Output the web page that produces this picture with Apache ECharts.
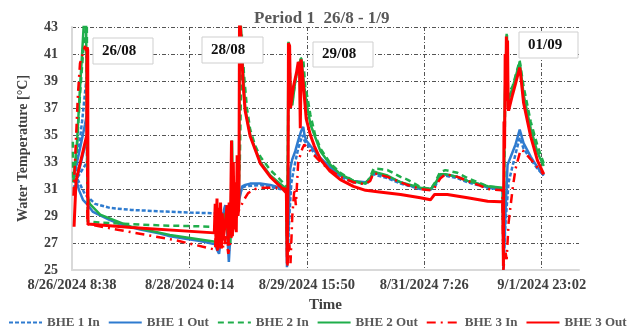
<!DOCTYPE html>
<html>
<head>
<meta charset="utf-8">
<script src="https://cdn.jsdelivr.net/npm/echarts@6/dist/echarts.min.js"></script>
<style>html,body{margin:0;padding:0;background:#fff}#c{width:631px;height:335px}</style>
</head>
<body>
<div id="c"></div>
<script>
// x values are hours since 8/26/2024 8:38
const xLabelHours = [0, 39.6, 79.2, 118.8, 158.4];
const xGridHours = [39.6, 79.2, 118.8, 158.4];
const yLabelValues = [25, 27, 29, 31, 33, 35, 37, 39, 41, 43];
const yGridValues = [27, 29, 31, 33, 35, 37, 39, 41, 43];
const seriesNames = ['BHE 1 In', 'BHE 1 Out', 'BHE 2 In', 'BHE 2 Out', 'BHE 3 In', 'BHE 3 Out'];
const dayLabels = ['26/08', '28/08', '29/08', '01/09'];

const bhe1In = [[0.7,31.0],[2.0,33.5],[3.4,36.0],[4.7,38.8],[5.0,39.0],[5.1,33.0],[1.7,31.8],[4.4,30.6],[7.8,29.9],[12.8,29.6],[20,29.45],[29.7,29.35],[40,29.25],[48.3,29.2],
 [48.6,28.0],[49.2,29.5],[49.8,27.5],[50.5,29.3],[51.3,28.8],[52.0,29.5],[52.7,27.0],[53.4,28.5],[54.4,29.0],[55.4,29.5],[56.4,30.5],[57.4,31.1],[58.4,31.2],[63.5,31.3],[70.2,31.0],[72.3,30.9],
 [72.6,25.5],[73.3,29.0],[74.0,31.5],[75.3,33.0],[76.3,34.0],[77.7,35.0],[78.35,34.6],[80.4,34.0],[83.8,33.2],[87.1,32.5],[90.5,31.9],[94.9,31.5],[98.9,31.4],[100.4,31.6],[101.6,32.1],[103,32.0],[106.4,31.8],[110.8,31.4],[117.5,31.0],[120.9,30.95],[122.5,31.2],[124.0,31.9],[125.6,32.0],[130,31.8],[133.4,31.5],[140.2,31.1],[145.3,31.0],
 [145.5,25.2],[146.2,28.5],[147.25,31.5],[149.6,33.6],[151.0,34.8],[152.3,34.0],[154.7,33.2],[157.0,32.5],[159.1,32.0]];

const bhe1Out = [[1.0,32.3],[2.7,34.0],[4.4,35.8],[5.1,36.6],[5.3,35.0],[1.5,31.6],[2.4,30.9],[3.7,30.2],[5.4,29.8],[7.1,29.3],[9.5,29.05],[12.8,28.7],[17,28.35],[23.0,28.0],[29.7,27.7],[33.1,27.5],[38.8,27.3],[43.2,27.15],[48.3,26.9],
 [48.9,26.5],[49.6,26.2],[50.3,27.5],[50.8,28.5],[51.3,29.5],[51.7,29.8],[52.3,28.0],[52.9,25.6],[53.4,27.5],[54.0,28.5],[54.7,29.0],[55.4,29.0],[55.7,29.7],[56.7,30.5],[57.4,31.2],[58.4,31.3],[60.1,31.4],[63.5,31.4],[66.9,31.3],[70.2,31.1],[72.3,31.0],
 [72.5,25.2],[73.0,28.0],[73.3,30.5],[73.6,32.5],[74.3,33.2],[75.3,33.8],[76.3,34.6],[77.3,35.3],[78.0,35.6],[78.4,35.0],[79.0,34.6],[80.4,34.2],[83.8,33.3],[87.1,32.6],[90.5,32.0],[94.9,31.6],[98.9,31.5],[100.2,31.6],[101.5,32.2],[103,32.15],[106.4,31.9],[110.8,31.5],[113.1,31.3],[117.5,31.05],[120.9,31.0],[122.5,31.3],[124.0,32.0],[125.3,32.1],[130.0,31.9],[133.4,31.6],[136.8,31.4],[140.2,31.1],[143.5,31.0],[145.3,31.0],
 [145.5,25.0],[146.2,29.2],[146.9,32.8],[149.6,34.3],[151.0,35.4],[152.3,34.4],[154.7,33.4],[157.0,32.6],[159.1,32.0]];

const bhe2In = [[0.3,34.5],[0.4,31.5],[1.5,33.5],[2.7,38.0],[3.7,41.0],[4.4,42.5],[5.0,43.5],[5.3,28.6],[10,28.5],[20,28.4],[30,28.3],[40,28.25],[48.3,28.2],
 [48.6,27.5],[49.5,29.0],[50.5,27.5],[51.3,28.8],[52.3,29.6],[53.0,27.0],[54.0,29.0],[55.0,29.8],[56.0,30.5],[56.6,33.0],[57.3,42.5],[58.0,39.5],[59.0,37.0],[60.1,35.4],[61.8,34.2],[63.5,33.4],[66.9,32.4],[70.2,31.7],[72.3,31.2],
 [72.6,27.0],[73.1,41.9],[73.4,41.9],[73.8,38.0],[74.5,37.8],[75.5,39.2],[76.5,40.2],[77.3,40.7],[78.0,40.6],[78.7,38.5],[79.4,37.8],[80.4,36.5],[82,35.0],[83.8,34.0],[87.1,32.9],[90.5,32.2],[94.9,31.6],[98.9,31.35],[100.6,31.9],[101.7,32.5],[103,32.5],[106.4,32.4],[110.8,31.9],[113.1,31.7],[117.5,31.15],[121,31.0],[122.5,31.5],[124.0,32.2],[125.9,32.4],[130,32.2],[133.4,31.8],[136.8,31.5],[140.2,31.2],[143.5,31.1],[145.3,31.0],
 [145.5,27.5],[146.2,39.0],[146.6,42.5],[147.0,38.0],[148.6,38.6],[151.0,40.5],[152.3,38.6],[154.7,36.0],[157.0,34.2],[159.1,32.9]];

const bhe2Out = [[0.5,31.5],[1.7,34.5],[2.7,38.5],[3.4,41.0],[4.05,43.5],[4.7,45.0],[5.2,30.5],[6,29.9],[9.5,29.1],[20,28.2],[33,27.6],[48.3,27.1],
 [48.9,26.7],[50,27.5],[51.3,29.0],[52.3,28.0],[53.4,27.0],[54.0,34.6],[54.3,28.5],[55.4,29.5],[56.3,30.0],[56.6,43.5],[57.0,43.0],[57.4,41.0],[58.4,37.0],[60.1,35.0],[63.5,33.0],[66.9,32.0],[70.2,31.4],[72.3,31.0],
 [72.6,26.0],[73.0,41.9],[73.5,41.9],[73.8,37.5],[74.3,37.2],[75.3,39.0],[76.3,40.0],[77.3,40.7],[77.9,40.6],[78.4,38.5],[79.4,37.0],[80.4,35.8],[83.8,33.8],[87.1,32.8],[90.5,32.1],[94.9,31.6],[98.9,31.4],[100.6,31.8],[101.7,32.3],[103,32.2],[106.4,32.0],[110.8,31.5],[117.5,31.1],[121,31.0],[122.5,31.4],[124.2,32.1],[126,32.1],[130,31.9],[133.4,31.6],[140.2,31.2],[145.3,31.1],
 [145.5,26.0],[146.0,38.0],[146.7,42.4],[147.1,37.5],[148.6,38.5],[151.0,40.4],[151.5,39.5],[152.3,38.0],[154.7,35.5],[157.0,33.7],[159.1,32.7]];

const bhe3In = [[0.5,30.5],[2.0,38.0],[2.7,40.3],[4.4,41.6],[5.0,41.0],[5.2,28.4],[20,27.8],[35,27.2],[46.6,26.6],[48.3,26.5],
 [48.6,28.5],[49.0,26.3],[49.5,29.0],[50,26.5],[50.5,28.0],[51,26.6],[52.0,27.5],[52.7,26.2],[53.4,27.0],[54.0,27.7],[55.0,28.5],[56.0,29.3],[56.7,29.6],[58.0,30.2],[59.4,30.7],[61.8,31.0],[63.5,31.1],[70.2,31.1],[72.3,31.0],
 [72.6,25.2],[73.3,27.0],[73.7,25.5],[74.3,29.0],[75.0,31.0],[75.5,29.8],[76.3,33.0],[77.0,33.5],[77.7,34.0],[78.35,34.3],[79.4,34.0],[80.4,33.8],[83.8,33.0],[87.1,32.4],[90.5,31.9],[94.9,31.5],[98.9,31.35],[100.6,31.6],[101.7,32.2],[103,32.1],[106.4,31.9],[110.8,31.5],[113.1,31.3],[117.5,31.0],[120.9,30.9],[122,31.0],[124.3,31.8],[126,32.1],[130,31.9],[133.4,31.6],[137,31.3],[140.2,31.0],[145.2,30.9],
 [145.5,25.0],[145.9,26.0],[146.23,26.3],[146.6,25.8],[147.25,28.5],[147.9,29.7],[148.6,31.0],[149.6,32.5],[151.3,33.9],[152.3,33.8],[154.7,33.2],[157.0,32.6],[159.1,32.1]];

const bhe3Out = [[0.7,28.2],[1.35,31.6],[5.0,35.0],[5.1,41.5],[5.3,41.3],[5.4,28.4],[20,28.15],[48.0,27.75],
 [48.3,29.9],[48.6,26.8],[48.9,30.3],[49.2,26.5],[49.5,29.6],[49.8,27.0],[50.1,30.0],[50.4,26.6],[50.7,29.2],[51.0,27.2],[51.7,28.5],[52.3,29.8],[52.7,26.8],[53.0,30.0],[53.4,27.5],[53.8,34.6],[54.1,27.5],[54.4,33.0],[54.7,28.0],[55.0,31.5],[55.4,27.8],[55.7,33.5],[56.0,29.0],[56.3,30.0],[56.5,44.0],[56.9,44.0],[57.07,42.0],[57.75,38.6],[58.4,36.8],[60.1,34.9],[63.5,32.9],[66.9,31.9],[70.2,31.2],[72.3,30.7],
 [72.4,30.6],[72.6,25.5],[72.9,33.0],[73.0,41.8],[73.4,41.6],[73.7,37.0],[74.0,36.9],[74.7,38.6],[75.7,39.6],[76.3,40.4],[76.7,40.2],[77.0,35.5],[77.3,40.6],[77.8,40.5],[78.3,38.0],[79.0,36.2],[80.4,35.0],[81.7,34.2],[83.8,33.2],[87.1,32.3],[90.5,31.7],[94.9,31.2],[99.0,30.9],[103,30.8],[110.8,30.6],[117.5,30.35],[120.9,30.2],[122.3,30.6],[126.6,30.6],[133.4,30.35],[140.2,30.1],[144.5,30.05],[145.3,30.1],
 [145.5,25.3],[145.7,36.0],[145.9,34.0],[146.1,41.0],[146.3,37.5],[146.5,42.3],[146.7,38.0],[146.9,42.0],[147.1,37.0],[147.25,36.8],[148.6,38.0],[149.6,38.8],[151.0,40.0],[151.3,39.5],[152.3,37.4],[154.7,34.9],[157.0,33.1],[159.1,32.1]];

const startUTC = Date.UTC(2024, 7, 26, 8, 38);
function fmtHour(h) {
  const d = new Date(startUTC + Math.round(h * 60) * 60000);
  return (d.getUTCMonth() + 1) + '/' + d.getUTCDate() + '/' + d.getUTCFullYear() + ' ' +
    d.getUTCHours() + ':' + String(d.getUTCMinutes()).padStart(2, '0');
}

const FONT = 'Liberation Serif';
const BLUE = '#2e7bcf', GREEN = '#1fae4b', RED = '#ff0000';
const gridDash = [4, 2, 1, 2];

const chart = echarts.init(document.getElementById('c'), null, {renderer: 'canvas'});

const seriesData = [bhe1In, bhe1Out, bhe2In, bhe2Out, bhe3In, bhe3Out];
const styles = [
  {color: BLUE, type: [4, 2], width: 2.5},
  {color: BLUE, type: 'solid', width: 2.5},
  {color: GREEN, type: [6, 4], width: 2.5},
  {color: GREEN, type: 'solid', width: 2.5},
  {color: RED, type: [9, 5, 2, 5], width: 2.5},
  {color: RED, type: 'solid', width: 3}
];

const boxes = [
  {x: 93, y: 38, w: 60, h: 26},
  {x: 202, y: 37, w: 61, h: 26},
  {x: 313, y: 42, w: 60, h: 25},
  {x: 519, y: 32, w: 59, h: 26}
];
const graphics = [];
boxes.forEach((b, i) => {
  graphics.push({type: 'rect', shape: {x: b.x, y: b.y, width: b.w, height: b.h}, z: 100,
    style: {fill: '#fff', stroke: '#cfcfcf', lineWidth: 1}});
  graphics.push({type: 'text', x: b.x + 9, y: b.y + b.h / 2, z: 101,
    style: {text: dayLabels[i], font: 'bold 15px "' + FONT + '"', fill: '#111', verticalAlign: 'middle', align: 'left'}});
});

chart.setOption({
  animation: false,
  backgroundColor: '#fff',
  title: {
    text: 'Period 1  26/8 - 1/9', left: 249, top: 5,
    textStyle: {fontFamily: FONT, fontWeight: 'bold', fontSize: 17, color: '#595959'}
  },
  grid: {left: 72, right: 52, top: 27, bottom: 65},
  legend: {
    data: seriesNames, left: 8, top: 316, padding: 0, itemWidth: 33, itemHeight: 12, itemGap: 8,
    itemStyle: {opacity: 0},
    textStyle: {fontFamily: FONT, fontWeight: 'bold', fontSize: 13, color: '#595959'}
  },
  xAxis: {
    type: 'value', min: 0, max: 171,
    name: 'Time', nameLocation: 'middle', nameGap: 28,
    nameTextStyle: {fontFamily: FONT, fontWeight: 'bold', fontSize: 15, color: '#404040'},
    axisLine: {show: true, lineStyle: {color: '#d9d9d9', width: 2}},
    axisTick: {show: false, customValues: xGridHours},
    axisLabel: {customValues: xLabelHours, formatter: v => fmtHour(v), margin: 8,
      fontFamily: FONT, fontWeight: 'bold', fontSize: 14.5, color: '#404040'},
    splitLine: {show: true, lineStyle: {color: '#555', type: gridDash, width: 1}}
  },
  yAxis: {
    type: 'value', min: 25, max: 43,
    name: 'Water Temperature [°C]', nameLocation: 'middle', nameGap: 42,
    nameTextStyle: {fontFamily: FONT, fontWeight: 'bold', fontSize: 14, color: '#404040'},
    axisLine: {show: true, lineStyle: {color: '#d9d9d9', width: 2}},
    axisTick: {show: false, customValues: yGridValues},
    axisLabel: {customValues: yLabelValues, margin: 14,
      fontFamily: FONT, fontWeight: 'bold', fontSize: 14, color: '#404040'},
    splitLine: {show: true, lineStyle: {color: '#555', type: gridDash, width: 1}}
  },
  series: seriesNames.map((n, i) => ({
    name: n, type: 'line', data: seriesData[i], symbol: 'none', clip: true,
    lineStyle: styles[i], itemStyle: {color: styles[i].color}, z: 2 + i
  })),
  graphic: graphics
});
</script>
</body>
</html>
